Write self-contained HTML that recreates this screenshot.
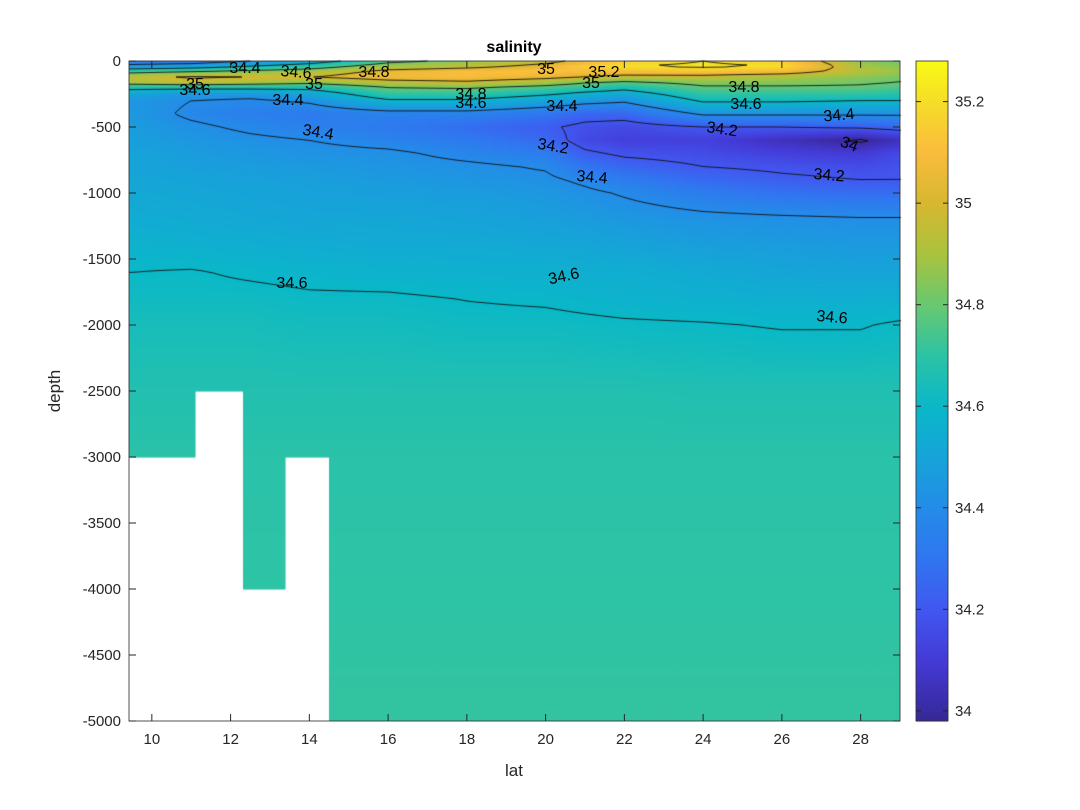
<!DOCTYPE html>
<html><head><meta charset="utf-8">
<style>
body{margin:0;background:#fff;width:1080px;height:810px;overflow:hidden;font-family:"Liberation Sans",sans-serif;}
#wrap{position:relative;width:1080px;height:810px;}
canvas{position:absolute;left:0;top:0;}
svg{position:absolute;left:0;top:0;}
text{font-family:"Liberation Sans",sans-serif;fill:#262626;}
</style></head>
<body>
<div id="wrap">
<canvas id="cv" width="1080" height="810"></canvas>
<svg id="sv" width="1080" height="810"></svg>
</div>
<script>
const lats=[9.5,11,12.5,14,16,18,20,21,22,24,26,28,29];
const depths=[0,-40,-80,-120,-160,-200,-250,-300,-400,-500,-600,-700,-800,-900,-1000,-1200,-1400,-1600,-1800,-2000,-2500,-3000,-4000,-5000];
const sal=[
[34.3,34.3,34.4,34.5,34.75,34.85,34.95,35.05,35.15,35.2,35.15,34.85,34.8],
[34.45,34.5,34.6,34.7,34.9,34.95,35.05,35.15,35.2,35.22,35.2,34.9,34.85],
[34.75,34.8,34.85,34.9,35.05,35.1,35.12,35.1,35.1,35.12,35.08,34.92,34.88],
[34.95,35.02,35.0,35.0,35.08,35.1,35.05,35.0,34.95,34.95,34.9,34.85,34.82],
[34.9,34.95,34.9,34.85,34.95,34.98,34.9,34.82,34.78,34.85,34.85,34.82,34.8],
[34.65,34.65,34.65,34.65,34.8,34.82,34.75,34.7,34.65,34.78,34.78,34.78,34.75],
[34.5,34.45,34.45,34.5,34.7,34.7,34.62,34.56,34.52,34.7,34.7,34.7,34.68],
[34.45,34.4,34.38,34.42,34.58,34.58,34.5,34.45,34.42,34.62,34.62,34.6,34.6],
[34.45,34.38,34.34,34.32,34.35,34.35,34.3,34.25,34.25,34.42,34.42,34.42,34.42],
[34.47,34.42,34.38,34.35,34.32,34.27,34.22,34.17,34.15,34.2,34.2,34.22,34.25],
[34.48,34.45,34.42,34.4,34.36,34.32,34.26,34.15,34.12,34.12,34.05,33.98,34.05],
[34.5,34.47,34.45,34.43,34.42,34.37,34.33,34.22,34.18,34.16,34.12,34.1,34.15],
[34.5,34.48,34.47,34.46,34.44,34.42,34.39,34.3,34.25,34.2,34.18,34.16,34.18],
[34.51,34.5,34.49,34.48,34.46,34.44,34.42,34.38,34.33,34.26,34.22,34.2,34.2],
[34.52,34.51,34.5,34.49,34.48,34.47,34.45,34.42,34.39,34.33,34.29,34.27,34.27],
[34.54,34.53,34.52,34.51,34.51,34.5,34.48,34.47,34.45,34.43,34.42,34.41,34.41],
[34.57,34.56,34.55,34.54,34.53,34.53,34.52,34.51,34.5,34.48,34.47,34.46,34.46],
[34.6,34.605,34.59,34.58,34.57,34.56,34.56,34.55,34.55,34.53,34.51,34.5,34.5],
[34.62,34.62,34.62,34.61,34.61,34.598,34.59,34.58,34.57,34.56,34.55,34.55,34.55],
[34.64,34.64,34.64,34.63,34.63,34.62,34.62,34.615,34.61,34.605,34.595,34.595,34.61],
[34.67,34.67,34.67,34.67,34.67,34.67,34.67,34.67,34.67,34.665,34.665,34.665,34.665],
[34.69,34.69,34.69,34.69,34.69,34.69,34.69,34.69,34.69,34.69,34.69,34.69,34.69],
[34.7,34.7,34.7,34.7,34.7,34.7,34.7,34.7,34.7,34.7,34.7,34.7,34.7],
[34.71,34.71,34.71,34.71,34.71,34.71,34.71,34.71,34.71,34.71,34.71,34.71,34.71]];
// missing (bottom) region: [latStart, latEnd, depthTop]
const maskLat0=[9.4,11.1,12.3,13.4];
const maskLat1=[11.1,12.3,13.4,14.5];
const maskTop=[-3000,-2500,-4000,-3000];
const levels=[34.0,34.2,34.4,34.6,34.8,35.0,35.2];
const xTicks=[10,12,14,16,18,20,22,24,26,28];
const yTicks=[0,-500,-1000,-1500,-2000,-2500,-3000,-3500,-4000,-4500,-5000];
const cTicks=[34,34.2,34.4,34.6,34.8,35,35.2];
const labels=[[245,69,"34.4",0],[296,73,"34.6",5],[374,73,"34.8",0],[314,85,"35",0],[195,85,"35",0],[195,91,"34.6",0],[288,101,"34.4",0],[471,95,"34.8",0],[471,104,"34.6",0],[546,70,"35",0],[604,73,"35.2",0],[591,84,"35",0],[744,88,"34.8",0],[562,107,"34.4",0],[746,105,"34.6",0],[839,116,"34.4",-5],[722,130,"34.2",8],[849,145,"34",20],[318,133,"34.4",10],[553,147,"34.2",10],[592,178,"34.4",5],[829,176,"34.2",5],[292,284,"34.6",0],[564,277,"34.6",-12],[832,318,"34.6",5]];

const X0=129,X1=900,Y0=61,Y1=721;
const latMin=9.42,latMax=29.0,dMin=-5000,dMax=0;
const sx=v=>X0+(v-latMin)/(latMax-latMin)*(X1-X0);
const sy=v=>Y0+(dMax-v)/(dMax-dMin)*(Y1-Y0);
const cMin=33.98,cMax=35.28;
const cy=v=>Y1-(v-cMin)/(cMax-cMin)*(Y1-Y0);
const cs=[33.98,34.1,34.2,34.3,34.4,34.5,34.6,34.7,34.8,34.9,35.0,35.1,35.2,35.28];
const cc=[[55,40,150],[68,58,215],[65,88,240],[48,118,240],[36,140,232],[22,164,216],[10,184,200],[45,195,165],[105,200,112],[170,195,62],[215,183,48],[250,188,60],[245,222,40],[249,250,20]];
function cmap(v){if(v<=cs[0])return `rgb(${cc[0]})`;for(let i=0;i<cs.length-1;i++){if(v<=cs[i+1]){const r=(v-cs[i])/(cs[i+1]-cs[i]);const a=cc[i],b=cc[i+1];return `rgb(${a.map((c,k)=>Math.round(c+(b[k]-c)*r)).join(',')})`;}}return `rgb(${cc[cc.length-1]})`;}
function idx(arr,v,desc){for(let i=0;i<arr.length-1;i++){const a=arr[i],b=arr[i+1];if(desc?(v<=a&&v>=b):(v>=a&&v<=b))return [i,(v-a)/(b-a)];}return v<(desc?arr[arr.length-1]:arr[0])?[desc?arr.length-2:0,desc?1:0]:[desc?0:arr.length-2,desc?0:1];}
function masked(lat,d){for(let k=0;k<maskLat0.length;k++){if(lat>=maskLat0[k]&&lat<maskLat1[k]&&d<maskTop[k])return true;}return false;}
function val(lat,d){const [i,u]=idx(lats,lat,false),[j,w]=idx(depths,d,true);
 return sal[j][i]*(1-u)*(1-w)+sal[j][i+1]*u*(1-w)+sal[j+1][i]*(1-u)*w+sal[j+1][i+1]*u*w;}
const ilat=x=>latMin+(x-X0)/(X1-X0)*(latMax-latMin);
const idep=y=>dMax-(y-Y0)/(Y1-Y0)*(dMax-dMin);
const cv=document.getElementById('cv'),ctx=cv.getContext('2d');
const S=2;const nx=Math.ceil((X1-X0)/S),ny=Math.ceil((Y1-Y0)/S);
const G=[];
for(let j=0;j<=ny;j++){G.push([]);for(let i=0;i<=nx;i++){const x=X0+i*S,y=Y0+j*S;const la=ilat(x),de=idep(y);G[j].push(masked(la,de)?NaN:val(la,de));}}
for(let j=0;j<ny;j++)for(let i=0;i<nx;i++){const la=ilat(X0+i*S+S/2),de=idep(Y0+j*S+S/2);if(masked(la,de))continue;
 ctx.fillStyle=cmap(val(la,de));ctx.fillRect(X0+i*S,Y0+j*S,Math.min(S+0.5,X1-X0-i*S),Math.min(S+0.5,Y1-Y0-j*S));}
ctx.strokeStyle='#111';ctx.lineWidth=0.9;ctx.beginPath();
for(const L of levels){for(let j=0;j<ny;j++)for(let i=0;i<nx;i++){
 const a=G[j][i],b=G[j][i+1],c=G[j+1][i+1],d=G[j+1][i];if([a,b,c,d].some(isNaN))continue;
 const x=X0+i*S,y=Y0+j*S;const pts=[];
 const e=(p,q,x1,y1,x2,y2)=>{if((p<L)!==(q<L)){const t=(L-p)/(q-p);pts.push([x1+(x2-x1)*t,y1+(y2-y1)*t]);}};
 e(a,b,x,y,x+S,y);e(b,c,x+S,y,x+S,y+S);e(d,c,x,y+S,x+S,y+S);e(a,d,x,y,x,y+S);
 for(let k=0;k+1<pts.length;k+=2){ctx.moveTo(pts[k][0],pts[k][1]);ctx.lineTo(pts[k+1][0],pts[k+1][1]);}}}
ctx.stroke();
const CB0=916,CB1=948;
for(let y=Y0;y<Y1;y++){ctx.fillStyle=cmap(cMax-(y+0.5-Y0)/(Y1-Y0)*(cMax-cMin));ctx.fillRect(CB0,y,CB1-CB0,1.2);}
const NS='http://www.w3.org/2000/svg',sv=document.getElementById('sv');
function el(t,a,p){const e=document.createElementNS(NS,t);for(const k in a)e.setAttribute(k,a[k]);(p||sv).appendChild(e);return e;}
let e;
e=el('rect',{x:X0,y:Y0,width:X1-X0,height:Y1-Y0,fill:'none',stroke:'#262626','stroke-width':0.8});

e=el('rect',{x:CB0,y:Y0,width:CB1-CB0,height:Y1-Y0,fill:'none',stroke:'#262626','stroke-width':0.8});

for(const l of labels){const t=el('text',{x:l[0],y:l[1],'font-size':16,'text-anchor':'middle','dominant-baseline':'middle',transform:`rotate(${l[3]} ${l[0]} ${l[1]})`,style:'fill:#000'});t.textContent=l[2];
 }
for(const v of xTicks){const x=sx(v);el('line',{x1:x,x2:x,y1:Y1,y2:Y1-7,stroke:'#262626'});el('line',{x1:x,x2:x,y1:Y0,y2:Y0+7,stroke:'#262626'});
 const t=el('text',{x:x,y:Y1+23,'font-size':15,'text-anchor':'middle'});t.textContent=v;
 }
for(const v of yTicks){const y=sy(v);el('line',{x1:X0,x2:X0+7,y1:y,y2:y,stroke:'#262626'});el('line',{x1:X1,x2:X1-7,y1:y,y2:y,stroke:'#262626'});
 const t=el('text',{x:X0-8,y:y+5,'font-size':15,'text-anchor':'end'});t.textContent=v;
 }
for(const v of cTicks){const y=cy(v);el('line',{x1:CB1,x2:CB1-5,y1:y,y2:y,stroke:'#262626'});el('line',{x1:CB0,x2:CB0+5,y1:y,y2:y,stroke:'#262626'});
 const t=el('text',{x:CB1+7,y:y+5,'font-size':15});t.textContent=v;
 }
e=el('text',{x:514,y:52,'font-size':16,'font-weight':'bold','text-anchor':'middle',style:'fill:#000'});e.textContent='salinity';

e=el('text',{x:514,y:776,'font-size':17,'text-anchor':'middle'});e.textContent='lat';

e=el('text',{x:60,y:391,'font-size':17,'text-anchor':'middle',transform:'rotate(-90 60 391)'});e.textContent='depth';

</script>
</body></html>
